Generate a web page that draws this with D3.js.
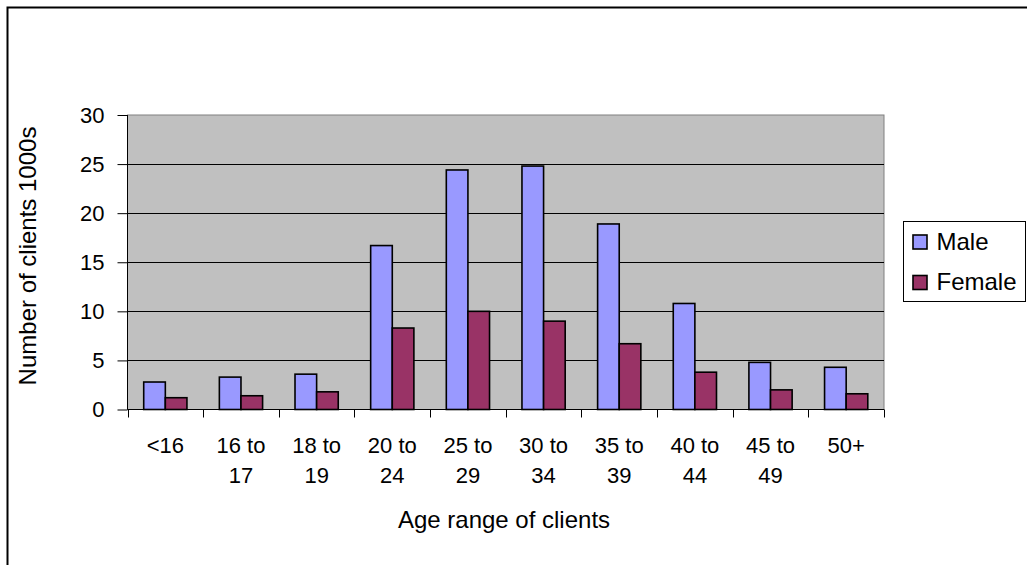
<!DOCTYPE html>
<html>
<head>
<meta charset="utf-8">
<script src="https://cdn.jsdelivr.net/npm/d3@7"></script>
<style>
  html, body { margin: 0; padding: 0; background: #fff; }
  svg { display: block; }
  text { font-family: Arial, "Liberation Sans", sans-serif; fill: #000; }
</style>
</head>
<body>
<svg id="chart" width="1027" height="565"></svg>
<script>
// Age bands (two-line labels split on "|")
const categories = ["<16", "16 to|17", "18 to|19", "20 to|24", "25 to|29", "30 to|34", "35 to|39", "40 to|44", "45 to|49", "50+"];
const seriesNames = ["Male", "Female"];
// Number of clients, thousands
const maleValues   = [2.8, 3.3, 3.6, 16.7, 24.4, 24.8, 18.9, 10.8, 4.8, 4.3];
const femaleValues = [1.2, 1.4, 1.8, 8.3, 10.0, 9.0, 6.7, 3.8, 2.0, 1.6];
const yTicks = [0, 5, 10, 15, 20, 25, 30];
const seriesColors = ["#9999FF", "#993366"];

const svg = d3.select("#chart");
const FONT = "Arial, 'Liberation Sans', sans-serif";

// Outer chart frame
svg.append("rect")
  .attr("x", 7.5).attr("y", 7.5)
  .attr("width", 1040).attr("height", 580)
  .attr("fill", "#fff").attr("stroke", "#000").attr("stroke-width", 2);

const plot = { left: 127.5, right: 884, top: 115, bottom: 409.5 };

const x0 = d3.scaleBand().domain(categories).range([plot.left, plot.right]).padding(0);
const x1 = d3.scaleBand().domain(seriesNames).range([0, x0.bandwidth()]).paddingInner(0).paddingOuter(0.75);
const y = d3.scaleLinear().domain([0, 30]).range([plot.bottom, plot.top]);

// Plot area background
svg.append("rect")
  .attr("x", plot.left).attr("y", plot.top)
  .attr("width", plot.right - plot.left).attr("height", plot.bottom - plot.top)
  .attr("fill", "#C0C0C0").attr("stroke", "#808080").attr("stroke-width", 1);

// Horizontal gridlines
svg.append("g").selectAll("line")
  .data(yTicks.filter(t => t > 0 && t < 30))
  .join("line")
  .attr("x1", plot.left).attr("x2", plot.right)
  .attr("y1", d => Math.round(y(d)) + 0.5).attr("y2", d => Math.round(y(d)) + 0.5)
  .attr("stroke", "#000").attr("stroke-width", 1);

// Bars
const data = categories.map((c, i) => ({ cat: c, vals: [maleValues[i], femaleValues[i]] }));
const groups = svg.append("g").selectAll("g")
  .data(data).join("g")
  .attr("transform", d => `translate(${x0(d.cat)},0)`);
groups.selectAll("rect")
  .data(d => d.vals.map((v, j) => ({ name: seriesNames[j], value: v, color: seriesColors[j] })))
  .join("rect")
  .attr("x", d => x1(d.name))
  .attr("width", x1.bandwidth())
  .attr("y", d => y(d.value))
  .attr("height", d => y(0) - y(d.value))
  .attr("fill", d => d.color)
  .attr("stroke", "#000").attr("stroke-width", 1.6);

// Y axis
const yAxis = d3.axisLeft(y).tickValues(yTicks).tickSize(10).tickPadding(13).tickFormat(d3.format("d"));
const yg = svg.append("g").attr("transform", `translate(${plot.left},0)`).call(yAxis);
yg.select(".domain").attr("stroke", "#000").attr("d", `M0,${plot.bottom}V${plot.top}`);
yg.selectAll(".tick line").attr("stroke", "#000");
yg.selectAll(".tick text")
  .attr("font-size", 22).attr("font-family", FONT).attr("fill", "#000");

// X axis: ticks at category boundaries
const boundaries = categories.map(c => x0(c)).concat([plot.right]);
const xg = svg.append("g");
xg.append("line")
  .attr("x1", plot.left).attr("x2", plot.right)
  .attr("y1", plot.bottom).attr("y2", plot.bottom)
  .attr("stroke", "#000");
xg.selectAll("line.tk").data(boundaries).join("line")
  .attr("class", "tk")
  .attr("x1", d => Math.round(d) + 0.5).attr("x2", d => Math.round(d) + 0.5)
  .attr("y1", plot.bottom).attr("y2", plot.bottom + 8)
  .attr("stroke", "#000");

const xLabels = xg.selectAll("text.xl").data(categories).join("text")
  .attr("class", "xl")
  .attr("text-anchor", "middle")
  .attr("font-size", 22)
  .attr("transform", d => `translate(${x0(d) + x0.bandwidth() / 2},0)`);
xLabels.selectAll("tspan")
  .data(d => d.split("|"))
  .join("tspan")
  .attr("x", 0)
  .attr("y", (d, i) => 453 + i * 30)
  .text(d => d);

// Axis titles
svg.append("text")
  .attr("x", 504).attr("y", 528)
  .attr("text-anchor", "middle")
  .attr("font-size", 24)
  .text("Age range of clients");

svg.append("text")
  .attr("transform", "translate(35.5,256) rotate(-90)")
  .attr("text-anchor", "middle")
  .attr("font-size", 24)
  .text("Number of clients 1000s");

// Legend
const legend = svg.append("g");
legend.append("rect")
  .attr("x", 903.5).attr("y", 221.5).attr("width", 122).attr("height", 80)
  .attr("fill", "#fff").attr("stroke", "#000").attr("stroke-width", 1);
const items = legend.selectAll("g.item").data(seriesNames).join("g")
  .attr("class", "item")
  .attr("transform", (d, i) => `translate(913,${235 + i * 40.5})`);
items.append("rect")
  .attr("width", 14).attr("height", 14)
  .attr("fill", (d, i) => seriesColors[i])
  .attr("stroke", "#000").attr("stroke-width", 1.6);
items.append("text")
  .attr("x", 23.5).attr("y", 14.5)
  .attr("font-size", 24)
  .text(d => d);
</script>
</body>
</html>
